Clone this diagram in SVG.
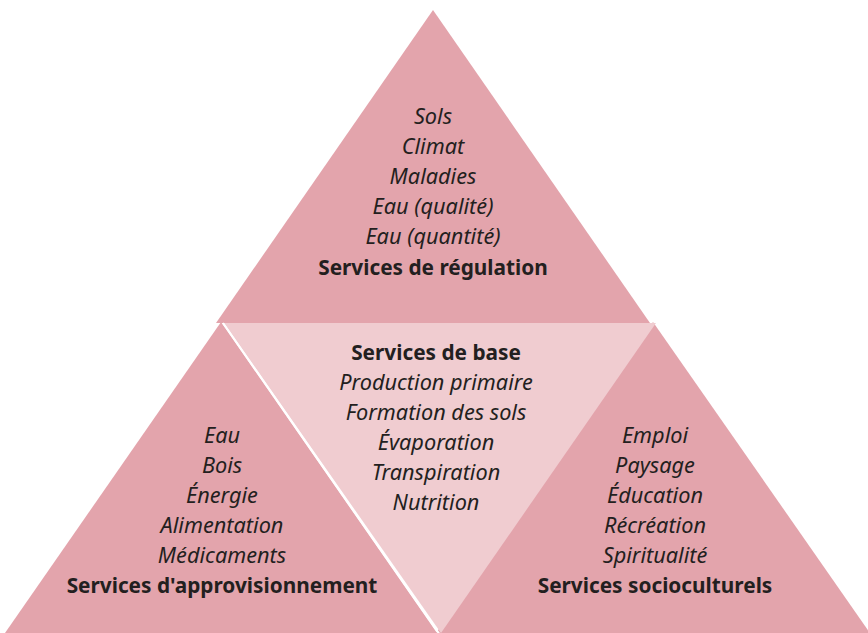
<svg xmlns="http://www.w3.org/2000/svg" width="868" height="633" viewBox="0 0 868 633">
<style>
.dark{fill:#E3A4AC}
.light{fill:#F0CCD0}
text{font-family:"Noto Sans","Open Sans","DejaVu Sans",sans-serif;fill:#231F20;text-anchor:middle}
.i{font-style:italic;font-size:21.7px}
.b{font-weight:bold;font-size:20.8px}
</style>
<rect width="868" height="633" fill="#ffffff"/>
<g id="regulation">
<polygon class="dark" points="433,10 650,323 216,323"/>
<text class="i" x="433" y="124">Sols</text>
<text class="i" x="433" y="154">Climat</text>
<text class="i" x="433" y="184">Maladies</text>
<text class="i" x="433" y="214">Eau (qualité)</text>
<text class="i" x="433" y="244">Eau (quantité)</text>
<text class="b" x="433" y="275">Services de régulation</text>
</g>
<g id="approvisionnement">
<polygon class="dark" points="221,322 437,633 5,633"/>
<text class="i" x="222" y="443">Eau</text>
<text class="i" x="222" y="473">Bois</text>
<text class="i" x="222" y="503">Énergie</text>
<text class="i" x="222" y="533">Alimentation</text>
<text class="i" x="222" y="563">Médicaments</text>
<text class="b" x="222" y="593">Services d'approvisionnement</text>
</g>
<g id="socioculturels">
<polygon class="dark" points="653,322 870,633 436,633"/>
<text class="i" x="655" y="443">Emploi</text>
<text class="i" x="655" y="473">Paysage</text>
<text class="i" x="655" y="503">Éducation</text>
<text class="i" x="655" y="533">Récréation</text>
<text class="i" x="655" y="563">Spiritualité</text>
<text class="b" x="655" y="593">Services socioculturels</text>
</g>
<g id="base">
<polygon class="light" points="224,323 656,323 441,633"/>
<line x1="223" y1="323" x2="440" y2="635" stroke="#ffffff" stroke-width="2"/>
<text class="b" x="436" y="360">Services de base</text>
<text class="i" x="436" y="390">Production primaire</text>
<text class="i" x="436" y="420">Formation des sols</text>
<text class="i" x="436" y="450">Évaporation</text>
<text class="i" x="436" y="480">Transpiration</text>
<text class="i" x="436" y="510">Nutrition</text>
</g>
<g id="connectors"/>
</svg>
